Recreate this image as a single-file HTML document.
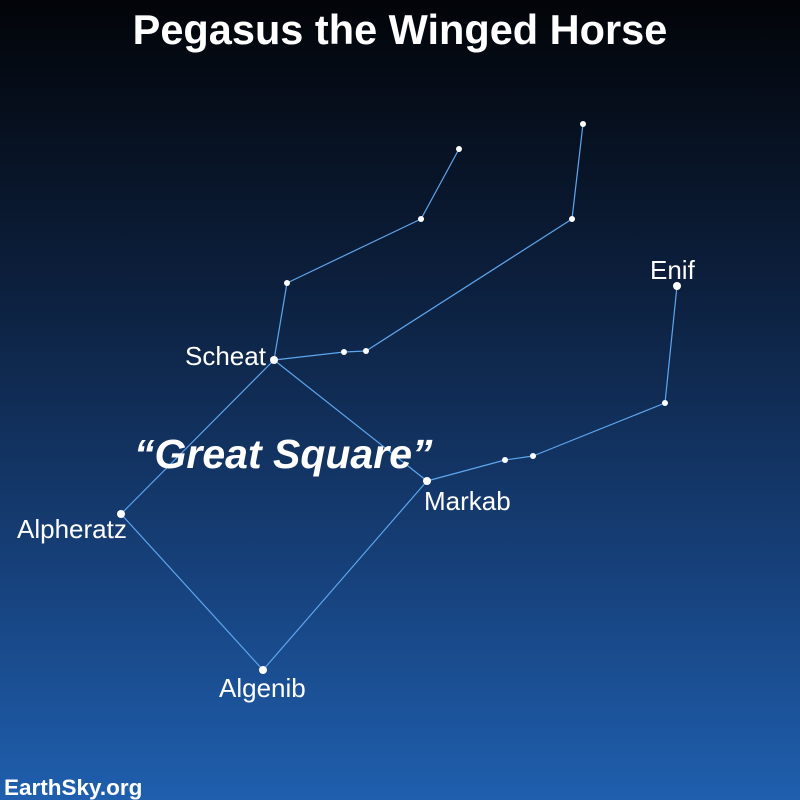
<!DOCTYPE html>
<html><head><meta charset="utf-8"><style>
html,body{margin:0;padding:0;width:800px;height:800px;overflow:hidden}
svg{display:block}
text{font-family:"Liberation Sans",sans-serif;fill:#fff}
</style></head><body>
<svg id="chart" width="800" height="800" viewBox="0 0 800 800">
<defs><linearGradient id="bg" x1="0" y1="0" x2="0" y2="1">
<stop offset="0" stop-color="#020408"/><stop offset="0.35" stop-color="#0c1f3c"/><stop offset="0.7" stop-color="#163f78"/><stop offset="1" stop-color="#1f5fae"/></linearGradient></defs>
<rect width="800" height="800" fill="url(#bg)"/>
<g id="lines"></g><g id="stars"></g>
<text x="400" y="44" text-anchor="middle" font-size="41.5" font-weight="bold">Pegasus the Winged Horse</text>
<text x="134" y="468" font-size="41" font-weight="bold" font-style="italic">“Great Square”</text>
<text x="185" y="365" font-size="26">Scheat</text>
<text x="17" y="538" font-size="26">Alpheratz</text>
<text x="219" y="697" font-size="26">Algenib</text>
<text x="424" y="510" font-size="26">Markab</text>
<text x="650" y="279" font-size="26">Enif</text>
<text x="4" y="795" font-size="22.5" font-weight="bold">EarthSky.org</text>
</svg>
<script>
const starX=[274,121,263,427,287,421,459,344,366,572,583,505,533,665,677];
const starY=[360,514,670,481,283,219,149,352,351,219,124,460,456,403,286];
const starR=[4,4,4,4,3,3,3,3,3,3,3,3,3,3,4];
const edgesFrom=[0,1,2,3,0,4,5,0,7,8,9,3,11,12,13];
const edgesTo=[1,2,3,0,4,5,6,7,8,9,10,11,12,13,14];
const ns="http://www.w3.org/2000/svg";
const lg=document.getElementById('lines'),sg=document.getElementById('stars');
for(let i=0;i<edgesFrom.length;i++){
 const l=document.createElementNS(ns,'line');
 l.setAttribute('x1',starX[edgesFrom[i]]);l.setAttribute('y1',starY[edgesFrom[i]]);
 l.setAttribute('x2',starX[edgesTo[i]]);l.setAttribute('y2',starY[edgesTo[i]]);
 l.setAttribute('stroke','#5ea6ee');l.setAttribute('stroke-width','1.2');
 
 
 lg.appendChild(l);
}
for(let i=0;i<starX.length;i++){
 const c=document.createElementNS(ns,'circle');
 c.setAttribute('cx',starX[i]);c.setAttribute('cy',starY[i]);c.setAttribute('r',starR[i]);c.setAttribute('fill','#fff');
 
 
 sg.appendChild(c);
}
</script>
</body></html>
